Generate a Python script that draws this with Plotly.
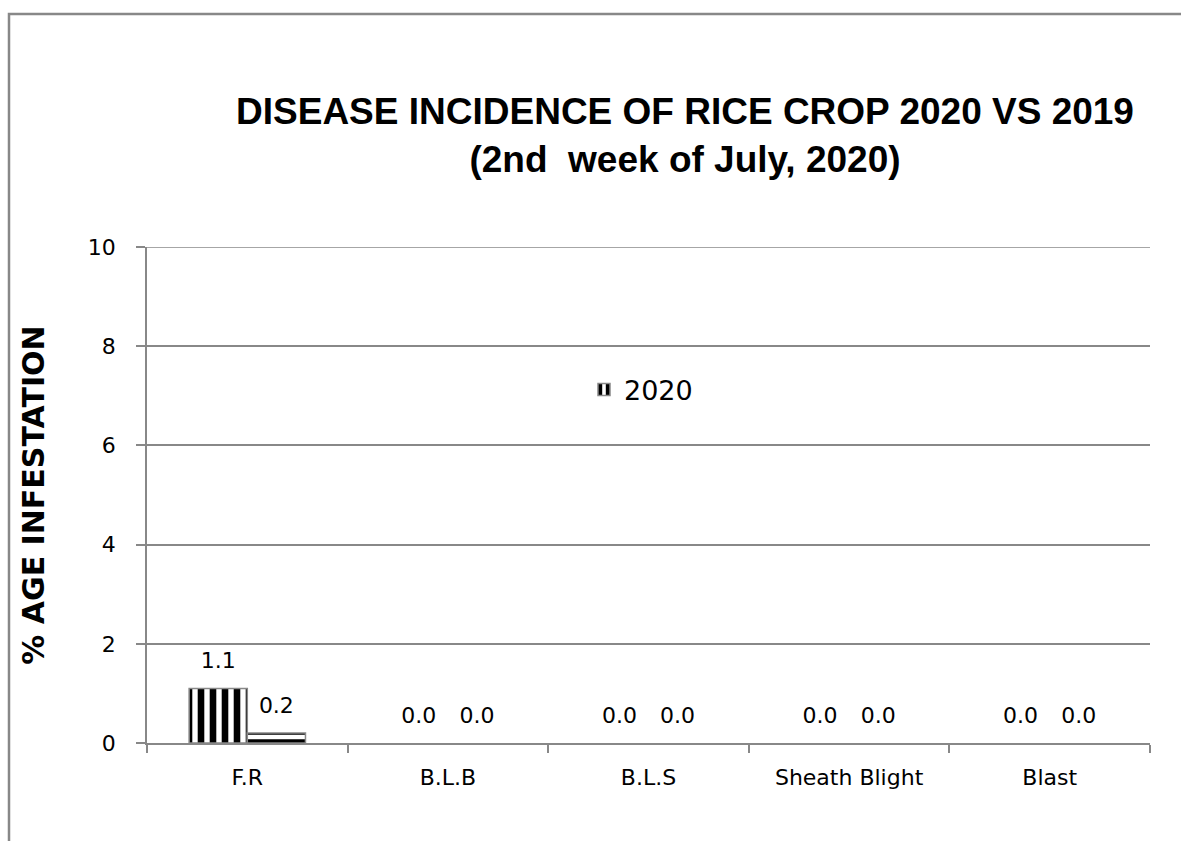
import plotly.graph_objects as go

categories = ["F.R", "B.L.B", "B.L.S", "Sheath Blight", "Blast"]
values_2020 = [1.1, 0.0, 0.0, 0.0, 0.0]
values_2019 = [0.2, 0.0, 0.0, 0.0, 0.0]
y_ticks = [0, 2, 4, 6, 8, 10]

W, H = 1181, 841
L, R, T, B = 147, 1150, 247, 743

def px_x(p):
    return (p - L) / (R - L)

def px_y(p):
    return (B - p) / (B - T)

FONT = "DejaVu Sans, Verdana, sans-serif"
label_font = dict(family=FONT, size=22, color="black")
GRAY = "#888888"

def outline(vals):
    return [1.5 if v > 0 else 0 for v in vals]

fig = go.Figure()
fig.add_trace(go.Bar(
    x=categories, y=values_2020, name="2020", offsetgroup="a",
    marker=dict(color="white", line=dict(color=GRAY, width=outline(values_2020)),
                pattern=dict(shape="|", fgcolor="black", bgcolor="white", fgopacity=1,
                             size=12, solidity=0.55)),
    hoverinfo="skip",
))
fig.add_trace(go.Bar(
    x=categories, y=values_2019, name="2019", showlegend=False, offsetgroup="b",
    marker=dict(color="white", line=dict(color=GRAY, width=outline(values_2019)),
                pattern=dict(shape="-", fgcolor="black", bgcolor="white", fgopacity=1,
                             size=10, solidity=0.55)),
    hoverinfo="skip",
))
for vals, grp in ((values_2020, "a"), (values_2019, "b")):
    fig.add_trace(go.Scatter(
        x=categories, y=vals, mode="markers+text", offsetgroup=grp, showlegend=False,
        marker=dict(size=22, opacity=0), text=[f"{v:.1f}" for v in vals],
        textposition="top center", textfont=label_font, cliponaxis=False, hoverinfo="skip",
    ))

fig.update_layout(
    width=W, height=H,
    margin=dict(l=L, r=W - R, t=T, b=H - B, autoexpand=False),
    paper_bgcolor="white", plot_bgcolor="white",
    barmode="group", bargap=0.42, bargroupgap=0,
    scattermode="group", scattergap=0.42,
    title=dict(
        text="DISEASE INCIDENCE OF RICE CROP 2020 VS 2019<br>(2nd  week of July, 2020)",
        x=685 / W, xref="container", xanchor="center",
        y=1 - 124 / H, yref="container", yanchor="top",
        font=dict(family="Liberation Sans, Arial, sans-serif", size=37, color="black", weight="bold"),
    ),
    legend=dict(x=px_x(584), y=px_y(390), xanchor="left", yanchor="middle",
                bgcolor="rgba(0,0,0,0)",
                font=dict(family=FONT, size=27, color="black")),
    xaxis=dict(
        type="category", tickson="boundaries", ticks="outside", ticklen=8,
        tickcolor=GRAY, tickwidth=1.5,
        showline=True, linecolor=GRAY, linewidth=1.5,
        showgrid=False, tickfont=label_font, ticklabelstandoff=14,
    ),
    yaxis=dict(
        range=[0, 10], tickvals=y_ticks, ticks="outside", ticklen=9,
        tickcolor=GRAY, tickwidth=1.5,
        showline=True, linecolor=GRAY, linewidth=1.5,
        showgrid=True, gridcolor=GRAY, gridwidth=1.5,
        zeroline=False, tickfont=label_font, ticklabelstandoff=16,
        title=dict(text="<b>% AGE INFESTATION</b>", standoff=34,
                   font=dict(family=FONT, size=30, color="black")),
    ),
    shapes=[
        dict(type="path", xref="paper", yref="paper",
             path=f"M {px_x(9)} {px_y(850)} L {px_x(9)} {px_y(14)} L {px_x(1190)} {px_y(14)}",
             line=dict(color=GRAY, width=2.5)),
        dict(type="line", xref="paper", yref="y", x0=0, x1=1, y0=y_ticks[-1], y1=y_ticks[-1],
             line=dict(color=GRAY, width=1.5)),
    ],
)

fig.write_html("out.html", config={"displayModeBar": False},
               post_script="document.body.style.margin='0';")
